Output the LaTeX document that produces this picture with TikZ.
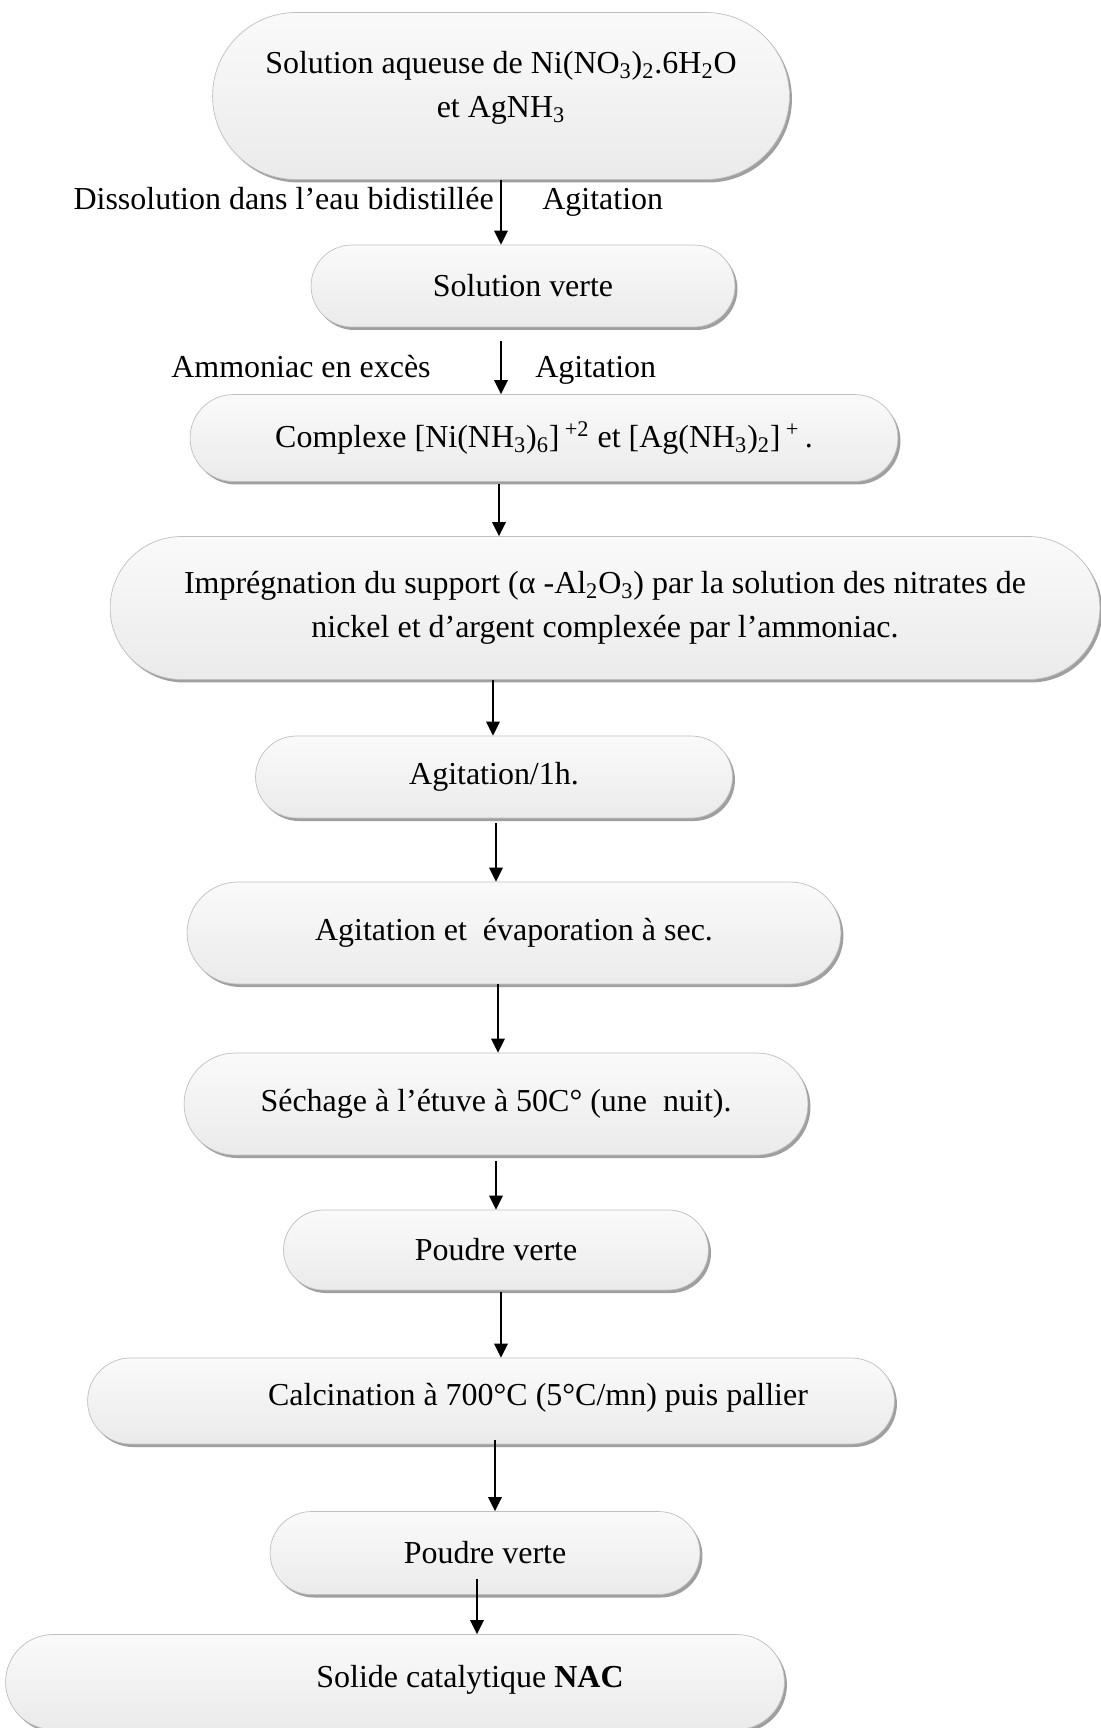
\documentclass[tikz,border=0pt]{standalone}
\usepackage{fontspec}
\setmainfont{Liberation Serif}
\usetikzlibrary{shapes.misc,shadows,arrows.meta}
\tikzset{
  bulle/.style={rounded rectangle, draw=gray!50, thin, top color=gray!4, bottom color=gray!16,
    drop shadow={shadow xshift=0.05cm, shadow yshift=-0.06cm, fill=gray!75, opacity=1},
    inner sep=0pt, align=center, font=\fontsize{18.2}{25}\selectfont},
  texte/.style={font=\fontsize{18.2}{25}\selectfont, inner sep=0pt},
  fleche/.style={-{Triangle[length=0.28cm,width=0.27cm]}, line width=1pt}
}
\begin{document}
\begin{tikzpicture}[x=0.02cm, y=-0.02cm]
\useasboundingbox (0,0) rectangle (1100,1728);

% etapes
\node[bulle, minimum width=11.54cm, minimum height=3.34cm] (n1) at (501,96) {};
\node[texte, align=center] (t1) at (501,88) {Solution aqueuse de Ni(NO\textsubscript{3})\textsubscript{2}.6H\textsubscript{2}O\\ et AgNH\textsubscript{3}};
\node[bulle, minimum width=8.48cm, minimum height=1.64cm] (n2) at (523,286) {Solution verte};
\node[bulle, minimum width=14.16cm, minimum height=1.74cm] (n3) at (544,438) {Complexe [Ni(NH\textsubscript{3})\textsubscript{6}]\,\textsuperscript{+2} et [Ag(NH\textsubscript{3})\textsubscript{2}]\,\textsuperscript{+}\,.};
\node[bulle, minimum width=19.8cm, minimum height=2.86cm] (n4) at (605,608) {Imprégnation du support (α -Al\textsubscript{2}O\textsubscript{3}) par la solution des nitrates de\\ nickel et d'argent complexée par l'ammoniac.};
\node[bulle, minimum width=9.54cm, minimum height=1.64cm] (n5) at (494,777) {Agitation/1h.};
\node[bulle, minimum width=13.08cm, minimum height=2.04cm] (n6) at (514,933) {Agitation et~ évaporation à sec.};
\node[bulle, minimum width=12.48cm, minimum height=2.04cm] (n7) at (496,1104) {Séchage à l'étuve à 50C° (une~ nuit).};
\node[bulle, minimum width=8.5cm, minimum height=1.6cm] (n8) at (496,1250) {Poudre verte};
\node[bulle, minimum width=16.14cm, minimum height=1.72cm] (n9) at (491,1401) {};
\node[texte] (t9) at (538,1398) {Calcination à 700°C (5°C/mn) puis pallier};
\node[bulle, minimum width=8.6cm, minimum height=1.66cm] (n10) at (485,1553) {Poudre verte};
\node[bulle, minimum width=15.58cm, minimum height=1.9cm] (n11) at (395,1682) {};
\node[texte] (t11) at (470,1680) {Solide catalytique \textbf{NAC}};

% conditions
\node[texte, anchor=base east] (dissol) at (494,209) {Dissolution dans l'eau bidistillée};
\node[texte, anchor=base west] (agit1) at (542,209) {Agitation};
\node[texte, anchor=base east] (ammo) at (431,377) {Ammoniac en excès};
\node[texte, anchor=base west] (agit2) at (535,377) {Agitation};

% fleches (decalage du depart en px)
\foreach \a/\b/\x/\s in {n1/n2/501/0, n2/n3/501/14, n3/n4/499/2, n4/n5/493/0, n5/n6/496/5, n6/n7/498/0, n7/n8/496/6, n8/n9/501/2, n9/n10/495/-4, n10/n11/477/-16}
  \draw[fleche] (\a.south -| \x,0) ++(0,\s) -- (\b.north -| \x,0);
\end{tikzpicture}
\end{document}
